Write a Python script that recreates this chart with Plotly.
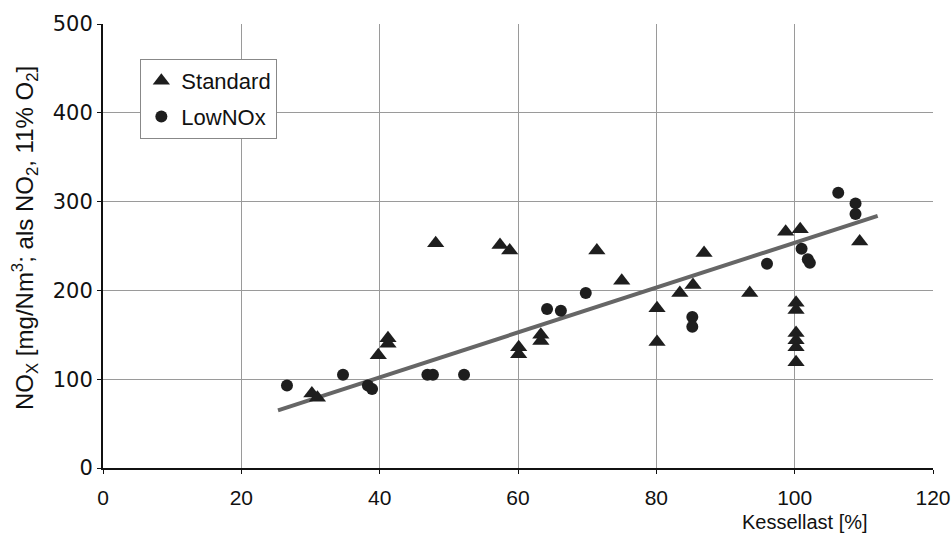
import plotly.graph_objects as go

# Standard (triangles)
std_x = [30.2, 31.0, 39.8, 41.2, 41.2, 48.1, 57.4, 58.8, 60.1, 60.1, 63.3, 63.3,
         71.4, 75.0, 80.1, 80.1, 83.4, 85.3, 86.9, 93.5, 98.7, 100.8,
         100.2, 100.2, 100.2, 100.2, 100.2, 100.2, 109.4]
std_y = [84, 79, 127, 146, 140, 253, 251, 245, 136, 128, 150, 143,
         245, 211, 180, 142, 197, 206, 242, 197, 266, 269,
         186, 178, 152, 144, 136, 119, 255]

# LowNOx (circles)
low_x = [26.6, 34.7, 38.3, 38.9, 46.9, 47.7, 52.2, 64.2, 66.2, 69.8, 85.2, 85.2,
         96.0, 101.0, 101.9, 102.2, 106.3, 108.8, 108.8]
low_y = [93, 105, 93, 89, 105, 105, 105, 179, 177, 197, 170, 159,
         230, 247, 235, 231, 310, 298, 286]

# Trend line endpoints
trend_x = [25.3, 112.0]
trend_y = [65, 284]

x_ticks = [0, 20, 40, 60, 80, 100, 120]
y_ticks = [0, 100, 200, 300, 400, 500]

fig = go.Figure()
fig.add_trace(go.Scatter(x=trend_x, y=trend_y, mode="lines",
                         line=dict(color="#666666", width=4), showlegend=False,
                         hoverinfo="skip"))
fig.add_trace(go.Scatter(x=std_x, y=std_y, mode="markers", name="Standard",
                         legendgroup="a",
                         marker=dict(symbol="triangle-up", size=15, color="#1e1e1e",
                                     line=dict(width=0))))
fig.add_trace(go.Scatter(x=low_x, y=low_y, mode="markers", name="LowNOx",
                         legendgroup="b",
                         marker=dict(symbol="circle", size=12, color="#1e1e1e",
                                     line=dict(width=0))))

font = "Liberation Sans, Arial, sans-serif"
fig.update_layout(
    width=952, height=545,
    margin=dict(l=103, r=19, t=24, b=77),
    plot_bgcolor="white", paper_bgcolor="white",
    font=dict(family=font, size=21, color="#111111"),
    showlegend=True,
    legend=dict(x=0.045, y=(468 - 59) / 444, xanchor="left", yanchor="top",
                bgcolor="white", bordercolor="#888888", borderwidth=1,
                font=dict(size=22), itemwidth=30, tracegroupgap=4,
                traceorder="grouped"),
    xaxis=dict(range=[0, 120], tickvals=x_ticks, showgrid=True, gridcolor="#9a9a9a",
               gridwidth=1, zeroline=False, showline=True, linecolor="#111111",
               linewidth=2, ticks="outside", ticklen=4, tickcolor="#111111",
               tickfont=dict(size=21, family=font), automargin=False,
               ticklabelstandoff=6),
    yaxis=dict(range=[0, 500], tickvals=y_ticks, showgrid=True, gridcolor="#9a9a9a",
               gridwidth=1, zeroline=False, showline=True, linecolor="#111111",
               linewidth=2, ticks="outside", ticklen=4, tickcolor="#111111",
               tickfont=dict(size=21, family="DejaVu Sans, sans-serif"),
               automargin=False),
)
fig.add_annotation(text="NO<sub>X</sub> [mg/Nm<sup>3</sup>; als NO<sub>2</sub>, 11% O<sub>2</sub>]",
                   xref="paper", yref="paper", x=(25 - 103) / 830, y=(468 - 238) / 444,
                   xanchor="center", yanchor="middle", textangle=-90,
                   showarrow=False, font=dict(size=24))
fig.add_annotation(text="Kessellast [%]", xref="paper", yref="paper",
                   x=(870 - 103) / 830, y=-(522 - 468) / 444, xanchor="right", yanchor="middle",
                   showarrow=False, font=dict(size=20))
fig.write_html("out.html")
